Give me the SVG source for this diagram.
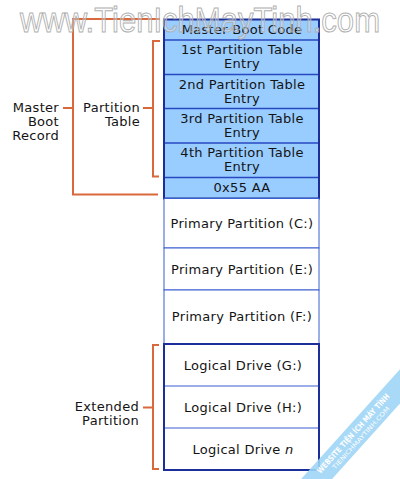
<svg xmlns="http://www.w3.org/2000/svg" width="400" height="479" viewBox="0 0 400 479">
<style>
.t{font-family:"DejaVu Sans",Verdana,sans-serif;font-size:13px;letter-spacing:0.3px;fill:#141414;text-anchor:middle}
.l{font-family:"DejaVu Sans",Verdana,sans-serif;font-size:13px;letter-spacing:0.3px;fill:#141414;text-anchor:end}
.br{fill:none;stroke:#d9693c;stroke-width:2}
.cell{fill:#99ccff}
.thick{fill:none;stroke:#1c2e9a;stroke-width:2}
.div{stroke:#2848c0;stroke-width:1.5}
.thin{fill:#ffffff;stroke:#3a5fd0;stroke-width:1}
.wm{font-family:"Liberation Sans",Arial,sans-serif;font-size:35px;fill:#ffffff;fill-opacity:0.3;stroke:#b0b0b0;stroke-width:1}
</style>
<rect width="400" height="479" fill="#ffffff"/>
<g id="connectors">
<path class="br" d="M160,19 H73 V194.5 H158 M63,108 H73"/>
<path class="br" d="M160,41 H153 V176.5 H159 M143,108 H153"/>
<path class="br" d="M159,345 H153 V469 H159 M143,407.5 H153"/>
</g>
<g id="mbr">
<rect class="cell" x="164" y="19.5" width="155" height="179"/>
<line class="div" x1="164" y1="40" x2="319" y2="40"/>
<line class="div" x1="164" y1="74.5" x2="319" y2="74.5"/>
<line class="div" x1="164" y1="108.5" x2="319" y2="108.5"/>
<line class="div" x1="164" y1="143" x2="319" y2="143"/>
<line class="div" x1="164" y1="177.5" x2="319" y2="177.5"/>
<rect class="thick" x="164" y="19.5" width="155" height="179"/>
</g>
<g id="master-boot-code"><text class="t" x="242" y="33.5">Master Boot Code</text></g>
<g id="entry1"><text class="t" x="242" y="54">1st Partition Table</text><text class="t" x="242" y="68">Entry</text></g>
<g id="entry2"><text class="t" x="242" y="88.5">2nd Partition Table</text><text class="t" x="242" y="102.5">Entry</text></g>
<g id="entry3"><text class="t" x="242" y="122.5">3rd Partition Table</text><text class="t" x="242" y="137">Entry</text></g>
<g id="entry4"><text class="t" x="242" y="157">4th Partition Table</text><text class="t" x="242" y="171">Entry</text></g>
<g id="signature"><text class="t" x="242" y="191.5">0x55 AA</text></g>
<g id="primary-c"><rect class="thin" x="164" y="198.5" width="155" height="49.5"/><text class="t" x="242" y="228">Primary Partition (C:)</text></g>
<g id="primary-e"><rect class="thin" x="164" y="248" width="155" height="42"/><text class="t" x="242" y="273.5">Primary Partition (E:)</text></g>
<g id="primary-f"><rect class="thin" x="164" y="290" width="155" height="54"/><text class="t" x="242" y="321">Primary Partition (F:)</text></g>
<g id="extended">
<rect fill="#ffffff" x="164" y="344" width="155" height="126"/>
<line x1="164" y1="386" x2="319" y2="386" stroke="#3a5fd0" stroke-width="1.2"/>
<line x1="164" y1="428" x2="319" y2="428" stroke="#3a5fd0" stroke-width="1.2"/>
<rect class="thick" x="164" y="344" width="155" height="126"/>
</g>
<g id="logical-g"><text class="t" x="243" y="370">Logical Drive (G:)</text></g>
<g id="logical-h"><text class="t" x="243" y="412">Logical Drive (H:)</text></g>
<g id="logical-n"><text class="t" x="243" y="454">Logical Drive <tspan font-style="italic">n</tspan></text></g>
<g id="label-mbr"><text class="l" x="59" y="112">Master</text><text class="l" x="59" y="126">Boot</text><text class="l" x="59" y="140">Record</text></g>
<g id="label-pt"><text class="l" x="140" y="112">Partition</text><text class="l" x="140" y="126">Table</text></g>
<g id="label-ext"><text class="l" x="139" y="411">Extended</text><text class="l" x="139" y="425">Partition</text></g>
<text class="wm" x="20" y="32" textLength="360" lengthAdjust="spacingAndGlyphs">www.TienIchMayTinh.com</text>
<g transform="translate(356,436) rotate(-48)">
<rect x="-100" y="-12" width="200" height="23" fill="#9fd5f5" fill-opacity="0.9"/>
<text x="0" y="-1" font-family="DejaVu Sans,sans-serif" font-size="8" font-weight="bold" fill="#ffffff" text-anchor="middle" textLength="104" lengthAdjust="spacingAndGlyphs">WEBSITE TIỆN ÍCH MÁY TÍNH</text>
<text x="2" y="7" font-family="DejaVu Sans,sans-serif" font-size="6" fill="#ffffff" text-anchor="middle" textLength="82" lengthAdjust="spacingAndGlyphs">TIENICHMAYTINH.COM</text>
</g>
</svg>
